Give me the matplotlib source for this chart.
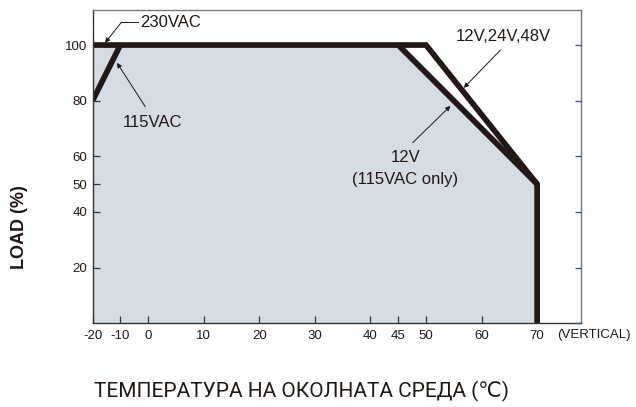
import numpy as np
import matplotlib
matplotlib.use("Agg")
import matplotlib.pyplot as plt

# derating curves (ambient temperature in C -> load in %)
temp_230 = [-20, 50, 70, 70]
load_230 = [100, 100, 50, 0]
temp_115 = [-20, -10]
load_115 = [80, 100]
temp_12v = [45, 70]
load_12v = [100, 50]

# shaded operating area
area_temp = [-20, -20, 45, 70, 70]
area_load = [0, 100, 100, 50, 0]

x_ticks = [-20, -10, 0, 10, 20, 30, 40, 45, 50, 60, 70]
y_ticks = [20, 40, 50, 60, 80, 100]
y_ticks_right = [0, 20, 40, 60, 80, 100]

SANS = ["Liberation Sans", "DejaVu Sans"]
INK = "#231815"


def fwd(x):
    # below 0 C the axis is drawn at half scale
    x = np.asarray(x, dtype=float)
    return np.where(x < 0, x / 2.0, x)


def inv(x):
    x = np.asarray(x, dtype=float)
    return np.where(x < 0, x * 2.0, x)


fig = plt.figure(figsize=(6.36, 4.07), dpi=100)
ax = fig.add_axes([0.1455, 0.2057, 0.7681, 0.7698])
ax.set_xscale("function", functions=(fwd, inv))
ax.set_xlim(-20, 77.9)
ax.set_ylim(0, 112.6)

ax.fill(area_temp, area_load, color="#d5dce4", lw=0, zorder=1)
line_kw = dict(color=INK, lw=4.1, solid_joinstyle="miter",
               solid_capstyle="butt", zorder=3)
ax.plot(temp_12v, load_12v, **line_kw)
ax.plot(temp_115, load_115, **line_kw)
ax.plot(temp_230, load_230, **line_kw)

ax.set_xticks(x_ticks)
ax.set_xticklabels([str(t) for t in x_ticks])
ax.set_yticks(y_ticks)
ax.set_yticklabels([str(t) for t in y_ticks])
ax.tick_params(direction="in", length=4.8, width=0.9, color="#333333",
               labelsize=9.5, labelcolor=INK)
ax.tick_params(axis="x", pad=4.6)
ax.tick_params(axis="y", pad=4.0)
for lab in ax.get_xticklabels() + ax.get_yticklabels():
    lab.set_family(SANS)

for side, col in (("left", "#333333"), ("bottom", "#333333"),
                  ("top", "#7a7a7a"), ("right", "#7a7a7a")):
    ax.spines[side].set_color(col)
    ax.spines[side].set_linewidth(1.0)
    ax.spines[side].set_zorder(4)

# blue ticks on the right edge
ax_r = ax.twinx()
ax_r.set_ylim(ax.get_ylim())
ax_r.set_yticks(y_ticks_right)
ax_r.tick_params(axis="y", direction="in", length=4.5, width=0.9,
                 color="#2b3ee6", labelright=False)
for s in ax_r.spines.values():
    s.set_visible(False)

ax.text(0.952, -0.039, "(VERTICAL)", transform=ax.transAxes, ha="left",
        va="center", fontsize=9.5, family=SANS, color=INK)

ann_kw = dict(fontsize=12, family=SANS, color=INK)
arrow = dict(arrowstyle="-|>", lw=0.7, color=INK, mutation_scale=7,
             shrinkA=0, shrinkB=0)

# 230VAC leader: short horizontal run, then diagonal to the curve
ax.text(-3.0, 108.2, "230VAC", ha="left", va="center", **ann_kw)
ax.plot([-3.6, -9.6], [108.2, 108.2], color=INK, lw=0.7, zorder=5)
ax.annotate("", xy=(-15.5, 100.8), xytext=(-9.6, 108.2), arrowprops=arrow)

ax.annotate("", xy=(-11.2, 93.6), xytext=(-1.0, 77.8), arrowprops=arrow)
ax.text(0.8, 72.0, "115VAC", ha="center", va="center", **ann_kw)

ax.text(64.0, 103.0, "12V,24V,48V", ha="center", va="center", **ann_kw)
ax.annotate("", xy=(56.8, 84.6), xytext=(63.4, 98.2), arrowprops=arrow)

ax.text(46.3, 59.6, "12V", ha="center", va="center", **ann_kw)
ax.text(46.3, 51.6, "(115VAC only)", ha="center", va="center", **ann_kw)
ax.annotate("", xy=(54.4, 78.1), xytext=(47.6, 64.9), arrowprops=arrow)

fig.text(0.030, 0.443, "LOAD (%)", rotation=90, ha="center", va="center",
         fontsize=13, fontweight="bold", family=SANS, color=INK)
fig.text(0.4748, 0.025, "ТЕМПЕРАТУРА НА ОКОЛНАТА СРЕДА (℃)", ha="center",
         va="baseline", fontsize=15, family=["Roboto", "DejaVu Sans"],
         color=INK)

fig.savefig("out.png", dpi=100)
